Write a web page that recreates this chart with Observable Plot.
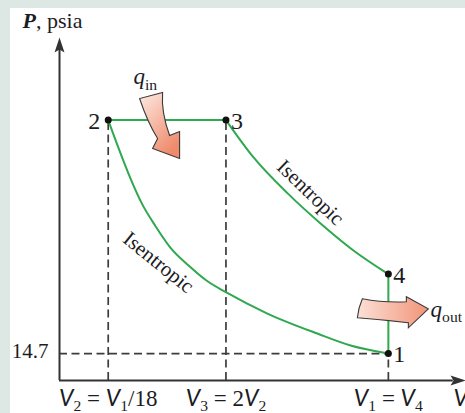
<!DOCTYPE html>
<html><head><meta charset="utf-8">
<script src="https://cdn.jsdelivr.net/npm/d3@7"></script>
<script src="https://cdn.jsdelivr.net/npm/@observablehq/plot@0.6"></script>
<style>
html,body{margin:0;padding:0;background:#dde7e4;overflow:hidden;width:465px;height:413px;}
#chart{position:absolute;left:10px;top:8px;width:455px;height:405px;background:#fff;overflow:hidden;}
</style></head><body><div id="chart"></div>
<script>
// Schematic units: volume axis 0..100, pressure axis 0..187 (psia-like, 14.7 tick)
const vDomain = [0, 100];
const pDomain = [0, 187];
const vTicks = [12, 41, 81];
const vTickLabels = ["V2 = V1/18", "V3 = 2V2", "V1 = V4"];
const pTicks = [14.7];
const pTickLabels = ["14.7"];
const axisLabelP = "P, psia";
const axisLabelV = "V, ft³/lbm";

const states = ["1", "2", "3", "4"];
const stateV = [81, 12, 41, 81];
const stateP = [14.7, 142, 142, 58];

// isentropic compression 2 -> 1
const comprV = [12, 14.5, 17.5, 20.4, 23.7, 27.3, 31.8, 36.2, 41.1, 51.2, 63.5, 71.7, 81];
const comprP = [142, 127, 110.1, 96, 84, 72.5, 62.7, 54.5, 48, 36.5, 25.6, 19.1, 14.7];
// isentropic expansion 3 -> 4
const expV = [41, 47.8, 56.2, 64.3, 72.4, 81];
const expP = [142, 121.6, 102, 85.6, 70.9, 58];

const heatNames = ["q_in", "q_out"];
const heatV = [24.9, 81];
const heatP = [139, 38];
const heatLabelV = [18.2, 91.4];
const heatLabelP = [165.4, 38.9];

const curveLabels = ["Isentropic", "Isentropic"];
const curveLabelV = [61.8, 24.4];
const curveLabelP = [102.5, 64.3];
const curveLabelAngle = [44, 39];

// ---- tables built from the arrays ----
const S = states.map((s, i) => ({s, v: stateV[i], p: stateP[i]}));
const st = k => S.find(d => d.s === k);
const compr = comprV.map((v, i) => ({v, p: comprP[i]}));
const expn = expV.map((v, i) => ({v, p: expP[i]}));
const heat = heatNames.map((n, i) => ({n, v: heatV[i], p: heatP[i], lv: heatLabelV[i], lp: heatLabelP[i]}));
const curveLab = curveLabels.map((t, i) => ({t, v: curveLabelV[i], p: curveLabelP[i], a: curveLabelAngle[i]}));
const xLab = vTicks.map((v, i) => ({v, t: vTickLabels[i]}));
const yLab = pTicks.map((p, i) => ({p, t: pTickLabels[i]}));
const verticals = [st("2"), st("3"), st("1")];

const green = "#2fa84f";
const dashCol = "#3c3c3c";
const dash = "8,4.5";
const serif = "'Liberation Serif', 'Times New Roman', serif";
const ink = "#1c1c24";

const arrowUp = {draw(c) { c.moveTo(0, 0); c.lineTo(5, 15); c.lineTo(0, 12); c.lineTo(-5, 15); c.closePath(); }};
const arrowRight = {draw(c) { c.moveTo(0, 0); c.lineTo(-15, -5); c.lineTo(-12, 0); c.lineTo(-15, 5); c.closePath(); }};
const qInShape = {draw(c) {
  c.moveTo(-21, -27); c.quadraticCurveTo(-13, -3, -3, 13); c.lineTo(-8, 23); c.lineTo(19, 33);
  c.lineTo(19, 6); c.lineTo(9, 10); c.quadraticCurveTo(0.5, -13, 2, -33); c.closePath();
}};
const qOutShape = {draw(c) {
  c.moveTo(-26, -12); c.quadraticCurveTo(-5, -8, 18, -9); c.lineTo(18, -14); c.lineTo(40, -2);
  c.lineTo(20, 17); c.lineTo(20, 12); c.quadraticCurveTo(-5, 9, -31, 7); c.quadraticCurveTo(-30, -3, -26, -12); c.closePath();
}};

const chart = Plot.plot({
  width: 455, height: 405,
  marginLeft: 49, marginRight: 0, marginTop: 29, marginBottom: 33,
  x: {domain: vDomain, axis: null},
  y: {domain: pDomain, axis: null},
  style: {background: "white"},
  marks: [
    Plot.ruleY(yLab, {y: "p", x1: vDomain[0], x2: st("1").v, stroke: dashCol, strokeWidth: 1.7, strokeDasharray: dash}),
    Plot.ruleX(verticals, {x: "v", y1: pDomain[0], y2: "p", stroke: dashCol, strokeWidth: 1.7, strokeDasharray: dash}),
    Plot.ruleX([vDomain[0]], {x: d => d, y1: pDomain[0], y2: pDomain[1] - 3, stroke: "#333", strokeWidth: 2}),
    Plot.ruleY([pDomain[0]], {y: d => d, x1: vDomain[0], x2: vDomain[1] - 3, stroke: "#333", strokeWidth: 2}),
    Plot.dot([{v: vDomain[0], p: pDomain[1]}], {x: "v", y: "p", symbol: arrowUp, fill: "#333", stroke: "none"}),
    Plot.dot([{v: vDomain[1], p: pDomain[0]}], {x: "v", y: "p", symbol: arrowRight, fill: "#333", stroke: "none"}),
    Plot.line(compr, {x: "v", y: "p", curve: "monotone-x", stroke: green, strokeWidth: 2}),
    Plot.line(expn, {x: "v", y: "p", curve: "monotone-x", stroke: green, strokeWidth: 2}),
    Plot.line([st("2"), st("3")], {x: "v", y: "p", stroke: green, strokeWidth: 2}),
    Plot.line([st("4"), st("1")], {x: "v", y: "p", stroke: green, strokeWidth: 2}),
    Plot.dot(heat.filter(d => d.n === "q_in"), {x: "v", y: "p", symbol: qInShape, fill: "url(#gIn)", stroke: "#3a3a3a", strokeWidth: 1.1}),
    Plot.dot(heat.filter(d => d.n === "q_out"), {x: "v", y: "p", symbol: qOutShape, fill: "url(#gOut)", stroke: "#3a3a3a", strokeWidth: 1.1}),
    Plot.dot(S, {x: "v", y: "p", r: 3.5, fill: "#111", stroke: "none"}),
    Plot.text(S.filter(d => d.s === "2"), {x: "v", y: "p", text: "s", textAnchor: "end", dx: -8, dy: 1, fontSize: 24, fontFamily: serif, fill: ink}),
    Plot.text(S.filter(d => d.s !== "2"), {x: "v", y: "p", text: "s", textAnchor: "start", dx: 5, dy: 1, fontSize: 24, fontFamily: serif, fill: ink}),
    Plot.text(yLab, {x: vDomain[0], y: "p", text: "t", textAnchor: "end", dx: -11, dy: -2, fontSize: 21, fontFamily: serif, fill: ink}),
    Plot.text(xLab, {x: "v", y: pDomain[0], text: "t", textAnchor: "middle", dy: 18, fontSize: 23, fontFamily: serif, fill: ink}),
    Plot.text([axisLabelV], {x: vDomain[1], y: pDomain[0], text: d => d, textAnchor: "start", dx: -12, dy: 18, fontSize: 23, fontFamily: serif, fill: ink}),
    Plot.text([axisLabelP], {x: vDomain[0], y: pDomain[1], text: d => d, textAnchor: "start", dx: -37, dy: -17, fontSize: 22, fontFamily: serif, fill: ink}),
    Plot.text(heat, {x: "lv", y: "lp", text: "n", textAnchor: "start", fontSize: 23, fontFamily: serif, fill: ink}),
    Plot.text(curveLab, {x: "v", y: "p", text: "t", rotate: "a", textAnchor: "middle", fontSize: 21, fontFamily: serif, fill: ink})
  ]
});
document.getElementById("chart").appendChild(chart);

const svgEl = chart.tagName.toLowerCase() === "svg" ? chart : chart.querySelector("svg");
const svg = d3.select(svgEl);
const defs = svg.insert("defs", ":first-child");
const gIn = defs.append("linearGradient").attr("id", "gIn").attr("x1", "0").attr("y1", "0").attr("x2", "0.6").attr("y2", "1");
gIn.append("stop").attr("offset", "0").attr("stop-color", "#fdebe4");
gIn.append("stop").attr("offset", "1").attr("stop-color", "#ef8a6c");
const gOut = defs.append("linearGradient").attr("id", "gOut").attr("x1", "0").attr("y1", "0").attr("x2", "1").attr("y2", "0");
gOut.append("stop").attr("offset", "0").attr("stop-color", "#fce0d6");
gOut.append("stop").attr("offset", "1").attr("stop-color", "#f29478");

// rich text: italics and subscripts
const sansItalic = "Lato, 'DejaVu Sans', sans-serif";
const rich = {
  "P, psia": [["P", "bi"], [", psia", ""]],
  "V2 = V1/18": [["V", "si"], ["2", "sub"], [" = ", ""], ["V", "si"], ["1", "sub"], ["/18", ""]],
  "V3 = 2V2": [["V", "si"], ["3", "sub"], [" = 2", ""], ["V", "si"], ["2", "sub"]],
  "V1 = V4": [["V", "si"], ["1", "sub"], [" = ", ""], ["V", "si"], ["4", "sub"]],
  "V, ft³/lbm": [["V", "si"], [", ft³/lbm", ""]],
  "q_in": [["q", "i"], ["in", "sub"]],
  "q_out": [["q", "i"], ["out", "sub"]]
};
svgEl.querySelectorAll("text").forEach(t => {
  const segs = rich[t.textContent];
  if (!segs) return;
  const fs = parseFloat(getComputedStyle(t).fontSize) || 20;
  while (t.firstChild) t.removeChild(t.firstChild);
  let shift = 0;
  for (const [s, k] of segs) {
    const ts = document.createElementNS("http://www.w3.org/2000/svg", "tspan");
    ts.textContent = s;
    const target = k === "sub" ? 0.22 * fs : 0;
    if (target !== shift) { ts.setAttribute("dy", target - shift); shift = target; }
    if (k === "sub") ts.setAttribute("font-size", 0.68 * fs);
    if (k === "i" || k === "bi" || k === "si") ts.setAttribute("font-style", "italic");
    if (k === "bi") ts.setAttribute("font-weight", "bold");
    if (k === "si") ts.setAttribute("font-family", sansItalic);
    t.appendChild(ts);
  }
});
</script></body></html>
